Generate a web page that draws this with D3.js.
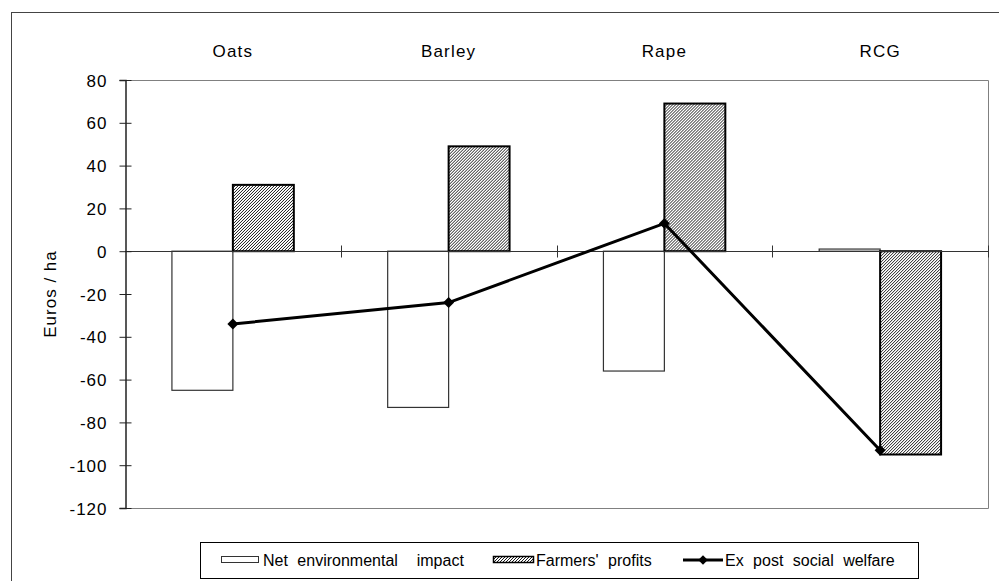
<!DOCTYPE html>
<html>
<head>
<meta charset="utf-8">
<script src="https://cdn.jsdelivr.net/npm/d3@7/dist/d3.min.js"></script>
<style>
  body { margin: 0; background: #fff; }
  text { font-family: "Liberation Sans", Arial, sans-serif; fill: #000; }
</style>
</head>
<body>
<div id="content"></div>
<script>
// Datos
const categories = ['Oats', 'Barley', 'Rape', 'RCG'];
const netEnvironmental = [-65, -73, -56, 1];
const farmersProfits = [31, 49, 69, -95];
const socialWelfare = [-34, -24, 13, -93];
const yTicks = [-120, -100, -80, -60, -40, -20, 0, 20, 40, 60, 80];
const legendLabels = ['Net environmental  impact', "Farmers' profits", 'Ex post social welfare'];

const width = 999;
const height = 581;
const plot = { left: 125, right: 988, top: 80, bottom: 508 };

const svg = d3.select('#content')
    .append('svg')
    .attr('width', width)
    .attr('height', height);

// Patron rayado para los beneficios
const defs = svg.append('defs');
defs.append('pattern')
    .attr('id', 'hatch')
    .attr('patternUnits', 'userSpaceOnUse')
    .attr('width', 3)
    .attr('height', 3)
    .append('path')
    .attr('d', 'M-1,1 L1,-1 M0,3 L3,0 M2,4 L4,2')
    .attr('stroke', '#000')
    .attr('stroke-width', 0.9);

// Marco exterior
svg.append('rect')
    .attr('x', 11.5)
    .attr('y', 12.5)
    .attr('width', 1000)
    .attr('height', 600)
    .attr('fill', 'none')
    .attr('stroke', '#444');

// Escalas
const x = d3.scaleBand()
    .domain(categories)
    .range([plot.left, plot.right])
    .paddingInner(0.435)
    .paddingOuter(0.2175);

const x1 = d3.scaleBand()
    .domain([0, 1])
    .range([0, x.bandwidth()]);

const y = d3.scaleLinear()
    .domain([-120, 80])
    .range([plot.bottom, plot.top]);

// Borde del area del grafico
svg.append('path')
    .attr('d', `M${plot.left},${plot.top + 0.5}H${plot.right + 0.5}V${plot.bottom + 0.5}H${plot.left}`)
    .attr('fill', 'none')
    .attr('stroke', '#808080');

// Barras
const groups = svg.append('g')
    .selectAll('g')
    .data(categories)
    .enter()
    .append('g')
    .attr('transform', d => `translate(${x(d)},0)`);

groups.append('rect')
    .attr('x', x1(0))
    .attr('y', (d, i) => y(Math.max(0, netEnvironmental[i])))
    .attr('width', x1.bandwidth())
    .attr('height', (d, i) => Math.abs(y(netEnvironmental[i]) - y(0)))
    .attr('fill', '#fff')
    .attr('stroke', '#333')
    .attr('stroke-width', 1.2);

groups.append('rect')
    .attr('x', x1(1))
    .attr('y', (d, i) => y(Math.max(0, farmersProfits[i])))
    .attr('width', x1.bandwidth())
    .attr('height', (d, i) => Math.abs(y(farmersProfits[i]) - y(0)))
    .attr('fill', 'url(#hatch)')
    .attr('stroke', '#000')
    .attr('stroke-width', 2);

// Linea del cero con marcas entre categorias
const zeroY = Math.round(y(0)) + 0.5;
svg.append('line')
    .attr('x1', plot.left)
    .attr('x2', plot.right)
    .attr('y1', zeroY)
    .attr('y2', zeroY)
    .attr('stroke', '#333');

const boundaries = categories.map(c => x(c) - (x.step() - x.bandwidth()) / 2).slice(1);
boundaries.push(plot.right);
svg.append('g')
    .selectAll('line')
    .data(boundaries)
    .enter()
    .append('line')
    .attr('x1', d => Math.round(d) + 0.5)
    .attr('x2', d => Math.round(d) + 0.5)
    .attr('y1', zeroY - 6)
    .attr('y2', zeroY + 6)
    .attr('stroke', '#333');

// Eje Y
const yAxis = svg.append('g')
    .attr('transform', `translate(${plot.left + 0.5},0)`)
    .call(d3.axisLeft(y).tickValues(yTicks).tickSize(6).tickFormat(d => d));

yAxis.select('.domain').attr('stroke', '#222').attr('stroke-width', 1.5);
yAxis.selectAll('.tick line').attr('x1', 6).attr('x2', -6).attr('stroke', '#222');
yAxis.selectAll('.tick text')
    .attr('x', -18)
    .attr('dy', '0.36em')
    .style('font-size', '17px')
    .style('letter-spacing', '1px')
    .style('font-family', '"Liberation Sans", Arial, sans-serif')
    .attr('fill', '#000');

// Titulo del eje Y
svg.append('text')
    .attr('transform', `translate(56,${(plot.top + plot.bottom) / 2}) rotate(-90)`)
    .attr('text-anchor', 'middle')
    .style('font-size', '17px')
    .style('letter-spacing', '1px')
    .text('Euros / ha');

// Etiquetas de categorias arriba
svg.append('g')
    .selectAll('text')
    .data(categories)
    .enter()
    .append('text')
    .attr('x', d => x(d) + x.bandwidth() / 2)
    .attr('y', 57)
    .attr('text-anchor', 'middle')
    .style('font-size', '17px')
    .style('letter-spacing', '1.2px')
    .text(d => d);

// Linea de bienestar social
const cx = i => x(categories[i]) + x.bandwidth() / 2;
svg.append('path')
    .datum(socialWelfare)
    .attr('d', d3.line().x((d, i) => cx(i)).y(d => y(d)))
    .attr('fill', 'none')
    .attr('stroke', '#000')
    .attr('stroke-width', 3);

const diamond = d3.symbol().type(d3.symbolSquare).size(60);
svg.append('g')
    .selectAll('path')
    .data(socialWelfare)
    .enter()
    .append('path')
    .attr('d', diamond)
    .attr('transform', (d, i) => `translate(${cx(i)},${y(d)}) rotate(45)`)
    .attr('fill', '#000');

// Leyenda
const legend = svg.append('g');
legend.append('rect')
    .attr('x', 200.5)
    .attr('y', 542.5)
    .attr('width', 718)
    .attr('height', 36)
    .attr('fill', '#fff')
    .attr('stroke', '#000');

const legendY = 560;
legend.append('rect')
    .attr('x', 221.5).attr('y', 556.5)
    .attr('width', 37).attr('height', 6)
    .attr('fill', '#fff').attr('stroke', '#333');
legend.append('rect')
    .attr('x', 493.5).attr('y', 556.5)
    .attr('width', 40).attr('height', 6)
    .attr('fill', 'url(#hatch)').attr('stroke', '#000').attr('stroke-width', 1.5);
legend.append('line')
    .attr('x1', 683).attr('x2', 723)
    .attr('y1', legendY).attr('y2', legendY)
    .attr('stroke', '#000').attr('stroke-width', 3);
legend.append('path')
    .attr('d', d3.symbol().type(d3.symbolSquare).size(45))
    .attr('transform', `translate(703,${legendY}) rotate(45)`)
    .attr('fill', '#000');

const legendX = [263, 536, 725];
legend.selectAll('text.lab')
    .data(legendLabels)
    .enter()
    .append('text')
    .attr('class', 'lab')
    .attr('x', (d, i) => legendX[i])
    .attr('y', legendY)
    .attr('dy', '0.36em')
    .attr('xml:space', 'preserve')
    .style('white-space', 'pre')
    .style('font-size', '16px')
    .style('word-spacing', '5px')
    .text(d => d);
</script>
</body>
</html>
